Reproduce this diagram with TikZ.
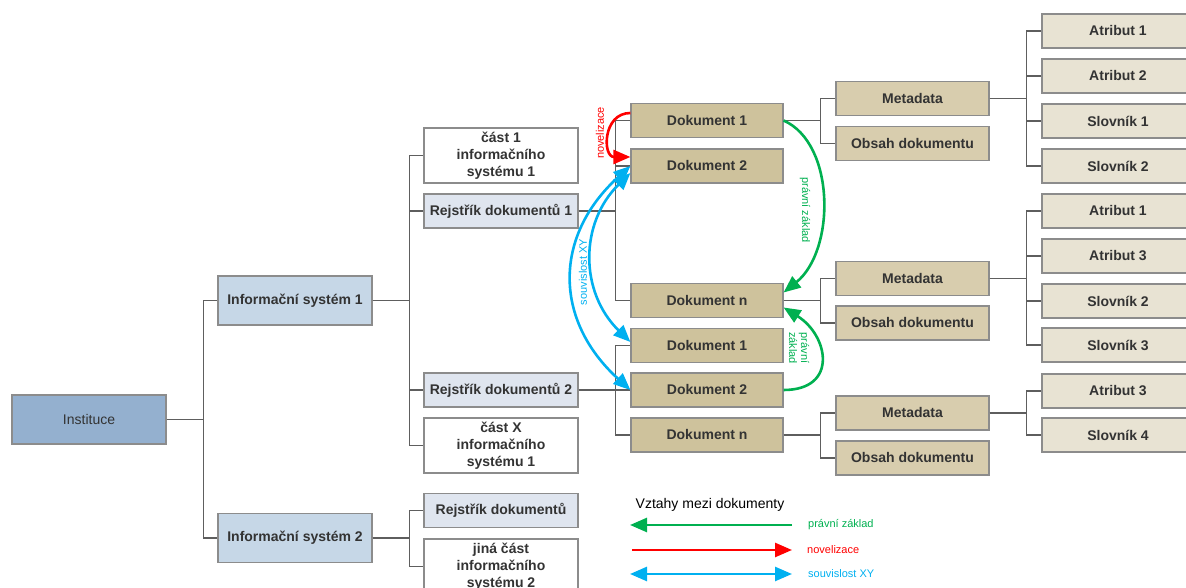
\documentclass[tikz,border=0pt]{standalone}
\usepackage{fontspec}
\setmainfont{Liberation Sans}
\usetikzlibrary{arrows.meta,positioning,calc}

\definecolor{instfill}{HTML}{94B0CF}
\definecolor{sysfill}{HTML}{C6D7E7}
\definecolor{rejfill}{HTML}{DFE5EF}
\definecolor{docfill}{HTML}{CEC29C}
\definecolor{metafill}{HTML}{D8CDAE}
\definecolor{attrfill}{HTML}{E8E3D3}
\definecolor{boxgray}{HTML}{8C8C8C}
\definecolor{linegray}{HTML}{5E5E5E}
\definecolor{txtgray}{HTML}{333333}
\definecolor{relgreen}{HTML}{00B050}
\definecolor{relred}{HTML}{FF0000}
\definecolor{relblue}{HTML}{00B0F0}

\begin{document}
\begin{tikzpicture}[x=1pt, y=1pt,
    box/.style={draw=boxgray, line width=1.2pt, minimum width=152pt, minimum height=34pt, inner sep=1pt, align=center, text=txtgray, font=\fontsize{14}{17}\selectfont\bfseries},
    instbox/.style={box, fill=instfill, minimum width=154pt, minimum height=49pt, font=\fontsize{14}{17}\selectfont},
    sysbox/.style={box, fill=sysfill, minimum width=154pt, minimum height=49pt},
    rejbox/.style={box, fill=rejfill, minimum width=154pt},
    partbox/.style={box, fill=white, minimum width=154pt, minimum height=55pt},
    docbox/.style={box, fill=docfill},
    metabox/.style={box, fill=metafill, minimum width=153pt},
    attrbox/.style={box, fill=attrfill},
    conn/.style={draw=linegray, line width=1.2pt},
    tip/.style={Triangle[length=17pt, width=14pt]},
    pravni/.style={draw=relgreen, line width=2.6pt, -{Triangle[length=17pt, width=14pt]}},
    novel/.style={draw=relred, line width=2.6pt, -{Triangle[length=17pt, width=14pt]}},
    souvis/.style={draw=relblue, line width=2.6pt, {Triangle[length=17pt, width=14pt]}-{Triangle[length=17pt, width=14pt]}},
    lbl/.style={font=\fontsize{11}{12}\selectfont, inner sep=0pt},
]
\useasboundingbox (0,0) rectangle (1186,588);

% institution and systems
\node[instbox] (inst) at (89,168.5) {Instituce};
\node[sysbox] (is1) at (295,287.5) {Informační systém 1};
\node[sysbox] (is2) at (295,50) {Informační systém 2};

\node[partbox] (cast1) at (501,432.5) {část 1\\informačního\\systému 1};
\node[rejbox] (rej1) at (501,377) {Rejstřík dokumentů 1};
\node[rejbox] (rej2) at (501,198) {Rejstřík dokumentů 2};
\node[partbox] (castx) at (501,142.5) {část X\\informačního\\systému 1};
\node[rejbox] (rej3) at (501,77.5) {Rejstřík dokumentů};
\node[partbox] (jina) at (501,21.5) {jiná část\\informačního\\systému 2};

% documents
\node[docbox] (d1a) at (707,467.5) {Dokument 1};
\node[docbox] (d2a) at (707,422) {Dokument 2};
\node[docbox] (dna) at (707,287.5) {Dokument n};
\node[docbox] (d1b) at (707,242.5) {Dokument 1};
\node[docbox] (d2b) at (707,198) {Dokument 2};
\node[docbox] (dnb) at (707,153) {Dokument n};

\node[metabox] (metaa) at (912.5,489.5) {Metadata};
\node[metabox] (obsa) at (912.5,444.5) {Obsah dokumentu};
\node[metabox] (metan) at (912.5,309.5) {Metadata};
\node[metabox] (obsn) at (912.5,265) {Obsah dokumentu};
\node[metabox] (metab) at (912.5,175) {Metadata};
\node[metabox] (obsb) at (912.5,130) {Obsah dokumentu};

% attributes
\node[attrbox] (at1a) at (1118,557) {Atribut 1};
\node[attrbox] (at2a) at (1118,512) {Atribut 2};
\node[attrbox] (sl1a) at (1118,467) {Slovník 1};
\node[attrbox] (sl2a) at (1118,422) {Slovník 2};
\node[attrbox] (at1n) at (1118,377) {Atribut 1};
\node[attrbox] (at3n) at (1118,332) {Atribut 3};
\node[attrbox] (sl2n) at (1118,287) {Slovník 2};
\node[attrbox] (sl3n) at (1118,243) {Slovník 3};
\node[attrbox] (at3b) at (1118,197) {Atribut 3};
\node[attrbox] (sl4b) at (1118,153) {Slovník 4};

% tree lines
\foreach \c in {is1,is2} \draw[conn] (inst.east) -- ++(37,0) |- (\c.west);
\foreach \c in {cast1,rej1,rej2,castx} \draw[conn] (is1.east) -- ++(37,0) |- (\c.west);
\foreach \c in {rej3,jina} \draw[conn] (is2.east) -- ++(37,0) |- (\c.west);
\foreach \c in {d1a,d2a,dna} \draw[conn] (rej1.east) -- ++(37,0) |- (\c.west);
\foreach \c in {d1b,d2b,dnb} \draw[conn] (rej2.east) -- ++(37,0) |- (\c.west);
\foreach \c in {metaa,obsa} \draw[conn] (d1a.east) -- ++(37,0) |- (\c.west);
\foreach \c in {metan,obsn} \draw[conn] (dna.east) -- ++(37,0) |- (\c.west);
\foreach \c in {metab,obsb} \draw[conn] (dnb.east) -- ++(37,0) |- (\c.west);
\foreach \c in {at1a,at2a,sl1a,sl2a} \draw[conn] (metaa.east) -- ++(37,0) |- (\c.west);
\foreach \c in {at1n,at3n,sl2n,sl3n} \draw[conn] (metan.east) -- ++(37,0) |- (\c.west);
\foreach \c in {at3b,sl4b} \draw[conn] (metab.east) -- ++(37,0) |- (\c.west);

% relations between documents
\draw[novel] ([yshift=7.5]d1a.west) .. controls +(-28,0) and +(-28,0) .. ([yshift=9]d2a.west);
\draw[souvis] (d2a.west) .. controls +(-77,-70) and +(-77,70) .. (d2b.west);
\draw[souvis] ([yshift=-7]d2a.west) .. controls +(-51,-50) and +(-51,50) .. ([yshift=3.5]d1b.west);
\draw[pravni] (d1a.east) .. controls +(52,-23) and +(52,42) .. ([yshift=8]dna.east);
\draw[pravni] (d2b.east) .. controls +(55,0) and +(45,-28) .. ([yshift=-7]dna.east);

\node[lbl, text=relred, rotate=90] (lnov) at (600,455) {novelizace};
\node[lbl, text=relblue, rotate=90] (lsou) at (583,316) {souvislost XY};
\node[lbl, text=relgreen, rotate=-90] (lpr1) at (805,378) {právní základ};
\node[lbl, text=relgreen, rotate=-90, align=center] (lpr2) at (799,240) {právní\\základ};

% legend
\node[font=\fontsize{14}{17}\selectfont] (vztahy) at (710,83) {Vztahy mezi dokumenty};
\coordinate (lg1s) at (792,63); \coordinate (lg1e) at (630,63);
\coordinate (lg2s) at (632,38); \coordinate (lg2e) at (792,38);
\coordinate (lg3s) at (630,14); \coordinate (lg3e) at (792,14);
\draw[pravni] (lg1s) -- (lg1e);
\draw[novel] (lg2s) -- (lg2e);
\draw[souvis] (lg3s) -- (lg3e);
\node[lbl, text=relgreen, anchor=west] (lgpr) at (808,63) {právní základ};
\node[lbl, text=relred, anchor=west] (lgnov) at (807,38) {novelizace};
\node[lbl, text=relblue, anchor=west] (lgsou) at (808,14) {souvislost XY};
\end{tikzpicture}
\end{document}
